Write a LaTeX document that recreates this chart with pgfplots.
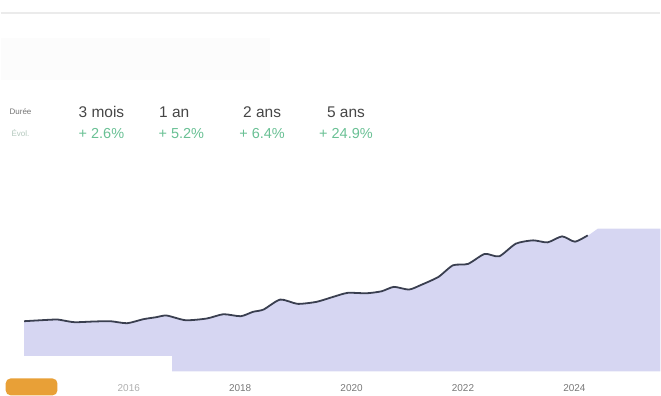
\documentclass[border=0pt]{standalone}
\usepackage{pgfplots}
\pgfplotsset{compat=1.18}
\usepackage{fontspec}
\setmainfont{Liberation Sans}
\definecolor{lav}{RGB}{214,214,242}
\definecolor{linec}{RGB}{58,63,80}
\definecolor{greenp}{RGB}{105,192,148}
\definecolor{headc}{RGB}{70,70,70}
\definecolor{tickc}{RGB}{120,120,120}
\definecolor{logo}{RGB}{232,160,55}
\begin{document}
\begin{tikzpicture}
\begin{axis}[
  scale only axis,
  width=661bp, height=396bp,
  xmin=2013.699, xmax=2025.545,
  ymin=-24, ymax=372,
  axis line style={draw=none},
  major tick length=0pt,
  ytick=\empty,
  xtick={2016,2018,2020,2022,2024},
  xticklabels={\textcolor{tickc!60}{2016},2018,2020,2022,2024},
  xticklabel style={anchor=center, yshift=7bp, font=\fontsize{10bp}{12bp}\selectfont, text=tickc},
  clip=false,
]
% faint top line
\draw[black!8, line width=1.2bp] (axis cs:2013.699,359) -- (axis cs:2025.545,359);
\fill[black!1] (axis cs:2013.699,334) rectangle (axis cs:2018.53,292);
% area
\addplot[fill=lav, draw=none] coordinates {
(2014.12,50.3) (2014.68,52) (2014.83,51) (2015.03,49.3) (2015.37,50) (2015.67,50.3)
(2015.97,48.3) (2016.26,52.3) (2016.49,54.3) (2016.68,56) (2017.02,51.3) (2017.40,53)
(2017.70,57.3) (2018.01,55.3) (2018.23,59.7) (2018.42,62) (2018.72,72) (2019.03,67.7)
(2019.37,69.7) (2019.67,74.7) (2019.93,78.7) (2020.27,78.3) (2020.54,80.3) (2020.76,84.7)
(2021.03,82) (2021.25,86.7) (2021.56,94.7) (2021.82,106.3) (2022.09,107.7) (2022.39,117.7)
(2022.65,115.3) (2022.95,128) (2023.26,131.3) (2023.52,129.3) (2023.78,135.3) (2024.01,130)
(2024.24,136.3) (2024.27,137) (2024.42,143) (2025.545,143)
} \closedcycle;
% white overlay bottom-left
\fill[white] (axis cs:2013.699,-1) rectangle (axis cs:2016.78,15);
% line
\addplot[linec, line width=1.8bp, smooth, tension=0.4] coordinates {
(2014.12,50.3) (2014.68,52) (2014.83,51) (2015.03,49.3) (2015.37,50) (2015.67,50.3)
(2015.97,48.3) (2016.26,52.3) (2016.49,54.3) (2016.68,56) (2017.02,51.3) (2017.40,53)
(2017.70,57.3) (2018.01,55.3) (2018.23,59.7) (2018.42,62) (2018.72,72) (2019.03,67.7)
(2019.37,69.7) (2019.67,74.7) (2019.93,78.7) (2020.27,78.3) (2020.54,80.3) (2020.76,84.7)
(2021.03,82) (2021.25,86.7) (2021.56,94.7) (2021.82,106.3) (2022.09,107.7) (2022.39,117.7)
(2022.65,115.3) (2022.95,128) (2023.26,131.3) (2023.52,129.3) (2023.78,135.3) (2024.01,130)
(2024.24,136.3)
};
% logo blob
\fill[logo, rounded corners=5bp] (axis cs:2013.79,-24) rectangle (axis cs:2014.72,-7);
% header
\node[text=headc, font=\fontsize{15.5bp}{18bp}\selectfont] at (axis cs:2015.509,260) {3 mois};
\node[text=headc, font=\fontsize{15.5bp}{18bp}\selectfont] at (axis cs:2016.817,260) {1 an};
\node[text=headc, font=\fontsize{15.5bp}{18bp}\selectfont] at (axis cs:2018.394,260) {2 ans};
\node[text=headc, font=\fontsize{15.5bp}{18bp}\selectfont] at (axis cs:2019.900,260) {5 ans};
\node[text=greenp, font=\fontsize{14.5bp}{17bp}\selectfont] at (axis cs:2015.509,238) {+ 2.6\%};
\node[text=greenp, font=\fontsize{14.5bp}{17bp}\selectfont] at (axis cs:2016.943,238) {+ 5.2\%};
\node[text=greenp, font=\fontsize{14.5bp}{17bp}\selectfont] at (axis cs:2018.394,238) {+ 6.4\%};
\node[text=greenp, font=\fontsize{14.5bp}{17bp}\selectfont] at (axis cs:2019.900,238) {+ 24.9\%};
\node[text=black!55, font=\fontsize{8bp}{10bp}\selectfont] at (axis cs:2014.057,260) {Durée};
\node[text=greenp!60!black!40, font=\fontsize{8bp}{10bp}\selectfont] at (axis cs:2014.057,239) {Évol.};
\end{axis}
\end{tikzpicture}
\end{document}
